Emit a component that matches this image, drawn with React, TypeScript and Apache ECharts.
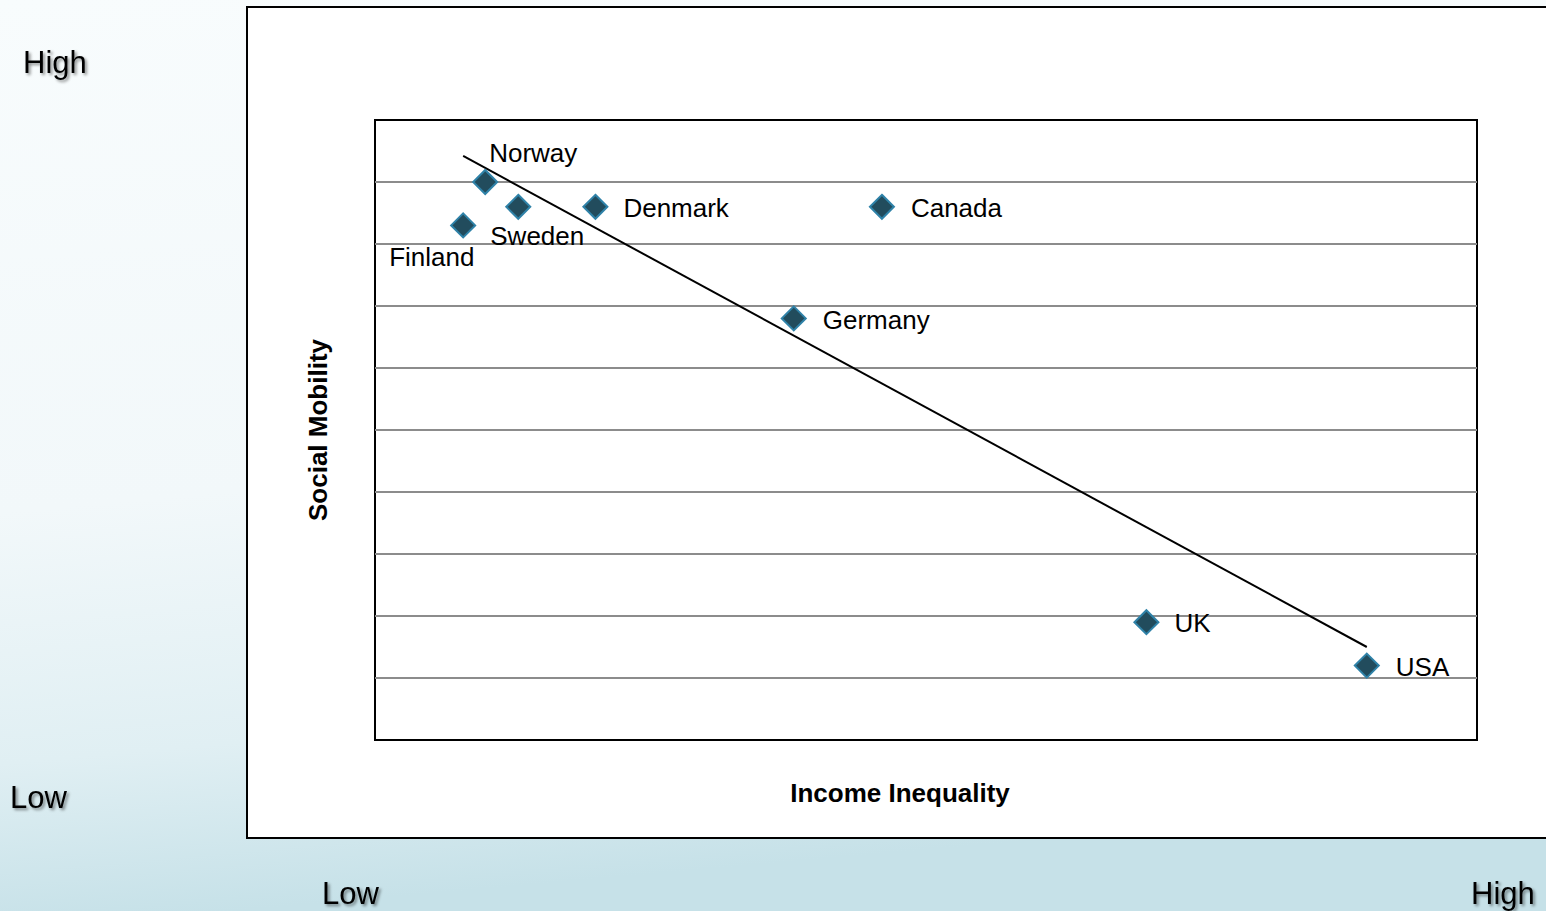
import React, { useEffect, useRef } from "react";
import * as echarts from "echarts";

const countries = ["Norway", "Sweden", "Finland", "Denmark", "Canada", "Germany", "UK", "USA"];
const incomeInequality = [10, 13, 8, 20, 46, 38, 70, 90];
const socialMobility = [9.0, 8.6, 8.3, 8.6, 8.6, 6.8, 1.9, 1.2];
const trendX = [8, 90];
const trendY = [9.42, 1.5];
const levelLabels = ["High", "Low"];

// label offsets (styling only)
const labelOffsets: Record<string, [number, number]> = {
  Norway: [-14, -29],
  Sweden: [-46, 29],
  Finland: [-92, 32],
  Denmark: [10, 1],
  Canada: [11, 1],
  Germany: [11, 2],
  UK: [10, 1],
  USA: [11, 1],
};

export default function App() {
  const ref = useRef<HTMLDivElement>(null);
  useEffect(() => {
    if (!ref.current) return;
    const chart = echarts.init(ref.current, undefined, { renderer: "svg" });
    const font = "Liberation Sans, Arial, sans-serif";
    const shadowText = (text: string, x: number, y: number) => ({
      type: "text",
      x,
      y,
      style: {
        text,
        fontFamily: font,
        fontSize: 31,
        fill: "#000",
        textShadowColor: "rgba(0,0,0,0.45)",
        textShadowBlur: 3,
        textShadowOffsetX: 2,
        textShadowOffsetY: 2,
        verticalAlign: "middle",
      },
      z: 10,
    });
    chart.setOption({
      animation: false,
      backgroundColor: {
        type: "linear",
        x: 0,
        y: 0,
        x2: 0.15,
        y2: 1,
        colorStops: [
          { offset: 0, color: "#f8fcfd" },
          { offset: 0.55, color: "#f2f8fa" },
          { offset: 0.82, color: "#e0eff3" },
          { offset: 1, color: "#c6e1e8" },
        ],
      },
      graphic: [
        {
          type: "rect",
          shape: { x: 247, y: 7, width: 1320, height: 831 },
          style: { fill: "#ffffff", stroke: "#000", lineWidth: 2 },
          z: -10,
        },
        shadowText(levelLabels[0], 23, 62),
        shadowText(levelLabels[1], 10, 797),
        shadowText(levelLabels[1], 322, 893),
        shadowText(levelLabels[0], 1471, 893),
      ],
      grid: {
        left: 375,
        top: 120,
        width: 1102,
        height: 620,
        show: true,
        borderColor: "#000",
        borderWidth: 2,
        backgroundColor: "#fff",
      },
      xAxis: {
        type: "value",
        min: 0,
        max: 100,
        name: "Income Inequality",
        nameLocation: "middle",
        nameGap: 53,
        nameTextStyle: {
          fontFamily: font,
          fontSize: 26,
          fontWeight: "bold",
          color: "#000",
          verticalAlign: "middle",
          padding: [0, 52, 0, 0],
        },
        axisLine: { show: false },
        axisTick: { show: false },
        axisLabel: { show: false },
        splitLine: { show: false },
      },
      yAxis: {
        type: "value",
        min: 0,
        max: 10,
        interval: 1,
        name: "Social Mobility",
        nameLocation: "middle",
        nameGap: 57,
        nameTextStyle: { fontFamily: font, fontSize: 26, fontWeight: "bold", color: "#000", verticalAlign: "middle" },
        axisLine: { show: false },
        axisTick: { show: false },
        axisLabel: { show: false },
        splitLine: {
          show: true,
          showMinLine: false,
          showMaxLine: false,
          lineStyle: { color: "#8c8c8c", width: 2 },
        },
      },
      series: [
        {
          type: "line",
          data: trendX.map((x, i) => [x, trendY[i]]),
          symbol: "none",
          lineStyle: { color: "#000", width: 2 },
          z: 2,
        },
        {
          type: "scatter",
          symbol: "diamond",
          symbolSize: 24,
          itemStyle: { color: "#224c5d", borderColor: "#2f82a8", borderWidth: 2, opacity: 1 },
          data: countries.map((c, i) => ({
            value: [incomeInequality[i], socialMobility[i]],
            name: c,
            label: {
              show: true,
              position: "right",
              offset: labelOffsets[c],
              formatter: c,
              fontFamily: font,
              fontSize: 26,
              color: "#000",
            },
          })),
          z: 3,
        },
      ],
    });
    return () => chart.dispose();
  }, []);
  return <div ref={ref} style={{ position: "fixed", left: 0, top: 0, width: 1546, height: 911 }} />;
}
